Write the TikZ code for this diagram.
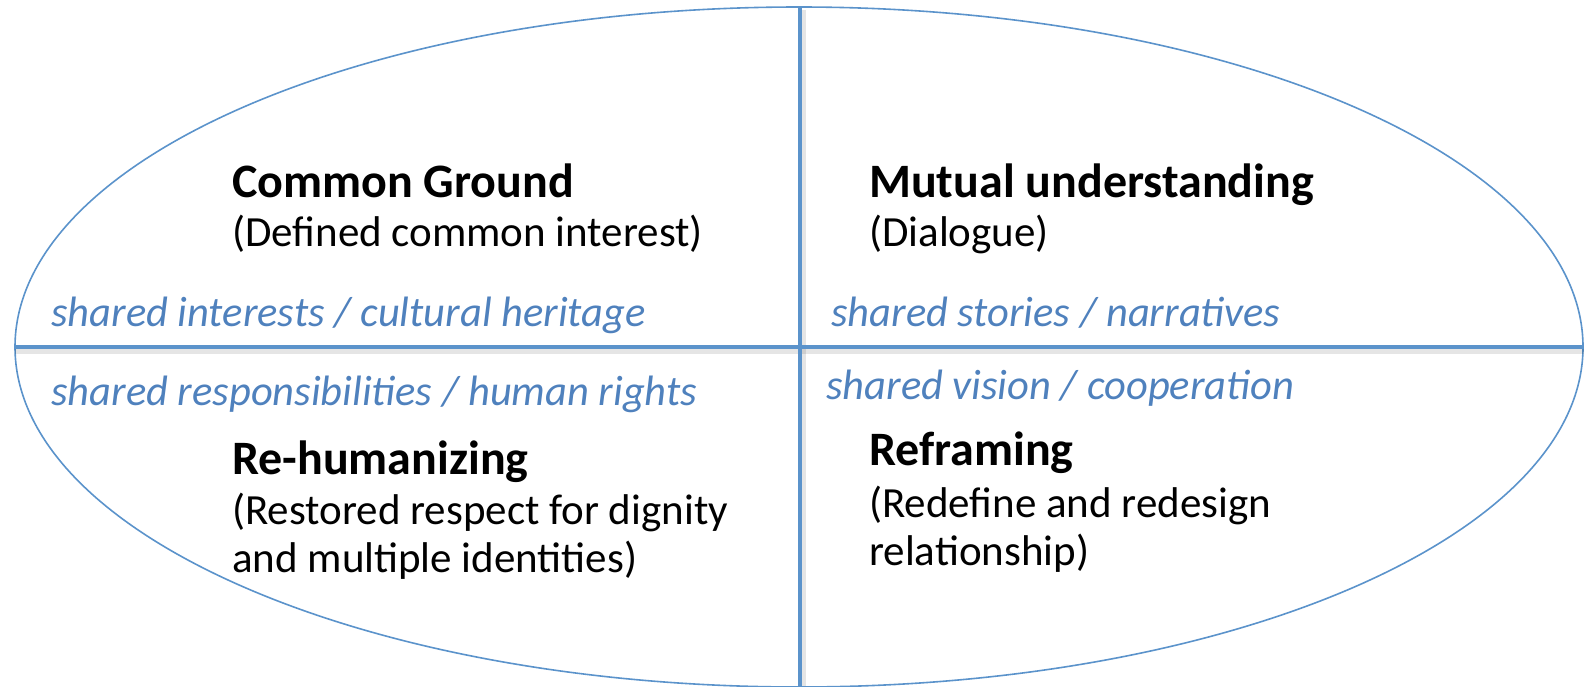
\documentclass[tikz,border=0pt]{standalone}
\usepackage{fontspec}
\setmainfont{Carlito}
\usepackage{tikz}
\usetikzlibrary{positioning}

\definecolor{quadblue}{RGB}{91,147,203}
\definecolor{labelblue}{RGB}{79,129,189}

\tikzset{
    heading/.style={anchor=base west, inner sep=0pt, font=\fontsize{48}{56}\selectfont\bfseries},
    descr/.style={anchor=base west, inner sep=0pt, align=left, font=\fontsize{43}{48}\selectfont},
    shared/.style={anchor=base west, inner sep=0pt, text=labelblue, font=\fontsize{42.5}{48}\selectfont\itshape},
    divider/.style={quadblue, line width=4.5pt},
    dividershadow/.style={black, opacity=0.10, line width=6pt}
}

\begin{document}
\begin{tikzpicture}[x=1pt,y=-1pt]
        \useasboundingbox (0,0) rectangle (1585,686);

        \coordinate (O) at (799,347);
        \coordinate (T) at (800,6);
        \coordinate (B) at (800,686);
        \coordinate (L) at (15,347);
        \coordinate (R) at (1584,347);

        % outer ellipse
        \draw[quadblue, line width=1.6pt] (O) ellipse (784 and 340);

        % soft shadow of the dividers
        \draw[dividershadow] ([shift={(3,4)}]T) -- ([shift={(3,0)}]B);
        \draw[dividershadow] ([shift={(0,4)}]L) -- ([shift={(0,4)}]R);

        % dividers
        \draw[divider] (T) -- (B);
        \draw[divider] (L) -- (R);

        % upper left
        \node[heading] (ground) at (232,197) {Common Ground};
        \node[descr] (groundtxt) at (232,246) {(Defined common interest)};
        \node[shared] (interests) at (51,326) {shared interests / cultural heritage};

        % upper right
        \node[heading] (mutual) at (869,197) {Mutual understanding};
        \node[descr] (mutualtxt) at (869,246) {(Dialogue)};
        \node[shared] (stories) at (831,326) {shared stories / narratives};

        % lower left (multi-line text sits on its last baseline)
        \node[shared] (rights) at (51,405) {shared responsibilities / human rights};
        \node[heading] (rehuman) at (232,474) {Re-humanizing};
        \node[descr] (rehumantxt) at (232,572) {(Restored respect for dignity\\and multiple identities)};

        % lower right
        \node[shared] (vision) at (826,399) {shared vision / cooperation};
        \node[heading] (reframe) at (869,465) {Reframing};
        \node[descr] (reframetxt) at (869,565) {(Redefine and redesign\\relationship)};
\end{tikzpicture}
\end{document}
